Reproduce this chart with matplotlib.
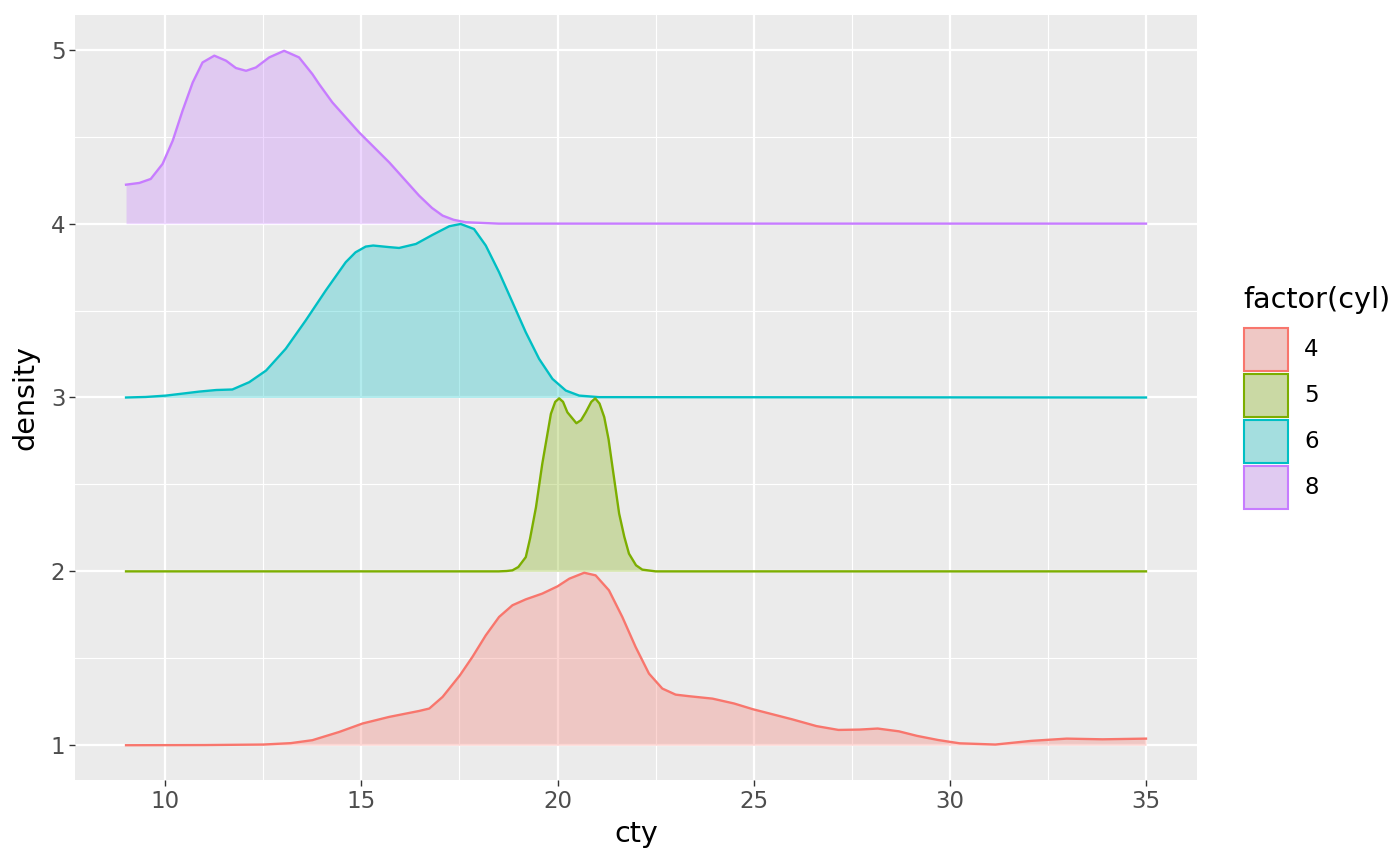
import matplotlib
matplotlib.use('Agg')
from matplotlib import pyplot as plt
from matplotlib.patches import Rectangle
from matplotlib.colors import to_rgb

# ridge values: x (cty) and scaled height above each baseline
cyl_levels = ['4', '5', '6', '8']
baselines = [1, 2, 3, 4]
colors = ['#F8766D', '#7CAE00', '#00BFC4', '#C77CFF']

x_4 = [9, 11, 12.5, 13.2, 13.75, 14.43, 15.03, 15.71, 16.47, 16.73, 17.07, 17.51, 17.83,
       18.17, 18.51, 18.85, 19.19, 19.61, 20.0, 20.3, 20.68, 20.97, 21.31, 21.65, 21.99,
       22.33, 22.67, 23.01, 23.35, 23.95, 24.5, 24.98, 25.98, 26.6, 27.16, 27.7, 28.16,
       28.7, 29.16, 29.7, 30.25, 31.16, 32.07, 32.98, 33.89, 35]
h_4 = [0, 0.001, 0.004, 0.012, 0.029, 0.076, 0.125, 0.163, 0.197, 0.211, 0.278, 0.402, 0.508,
       0.632, 0.738, 0.805, 0.839, 0.872, 0.914, 0.958, 0.992, 0.977, 0.891, 0.738, 0.565,
       0.412, 0.326, 0.291, 0.282, 0.268, 0.24, 0.207, 0.149, 0.11, 0.088, 0.09, 0.096,
       0.08, 0.054, 0.03, 0.011, 0.004, 0.025, 0.038, 0.034, 0.038]

x_5 = [9, 18.5, 18.7, 18.85, 19.0, 19.19, 19.3, 19.45, 19.61, 19.83, 19.94, 20.04, 20.14,
       20.25, 20.48, 20.6, 20.72, 20.86, 20.96, 21.07, 21.19, 21.3, 21.4, 21.57, 21.7,
       21.82, 22.0, 22.16, 22.5, 35]
h_5 = [0, 0, 0.002, 0.006, 0.025, 0.082, 0.19, 0.369, 0.618, 0.906, 0.975, 0.995, 0.975,
       0.915, 0.852, 0.87, 0.915, 0.975, 0.995, 0.965, 0.887, 0.76, 0.6, 0.332, 0.2,
       0.102, 0.035, 0.01, 0, 0]

x_6 = [9, 9.5, 10.02, 10.87, 11.3, 11.71, 12.14, 12.57, 13.07, 13.58, 14.09, 14.6, 14.85,
       15.11, 15.3, 15.7, 15.96, 16.39, 16.81, 17.24, 17.53, 17.87, 18.17, 18.51, 18.85,
       19.19, 19.53, 19.87, 20.21, 20.55, 21.06, 35]
h_6 = [0, 0.003, 0.011, 0.034, 0.043, 0.046, 0.088, 0.155, 0.28, 0.443, 0.615, 0.778, 0.835,
       0.868, 0.874, 0.865, 0.86, 0.883, 0.935, 0.985, 0.998, 0.969, 0.874, 0.72, 0.548,
       0.375, 0.222, 0.107, 0.04, 0.011, 0.002, 0]

x_8 = [9, 9.34, 9.63, 9.93, 10.19, 10.44, 10.7, 10.95, 11.25, 11.55, 11.8, 12.06, 12.31,
       12.65, 13.03, 13.41, 13.75, 13.92, 14.26, 14.94, 15.71, 16.47, 16.8, 17.07, 17.35,
       17.66, 18.5, 35]
h_8 = [0.224, 0.234, 0.257, 0.343, 0.477, 0.649, 0.812, 0.927, 0.966, 0.937, 0.895, 0.879, 0.898,
       0.956, 0.994, 0.956, 0.86, 0.803, 0.697, 0.525, 0.352, 0.161, 0.09, 0.046, 0.022,
       0.008, 0, 0]

ridges_x = [x_4, x_5, x_6, x_8]
ridges_h = [h_4, h_5, h_6, h_8]

panel_bg = '#EBEBEB'
fill_alpha = 0.3

fig = plt.figure(figsize=(14, 8.66), dpi=100)
ax = fig.add_axes([0.0536, 0.0993, 0.855 - 0.0536, 0.9827 - 0.0993])
ax.set_facecolor(panel_bg)
for side in ax.spines.values():
    side.set_visible(False)

# top ridge first so lower ridges sit on top of it
for n in reversed(range(len(cyl_levels))):
    base = baselines[n]
    ys = [base + h for h in ridges_h[n]]
    ax.fill_between(ridges_x[n], base, ys, color=colors[n], alpha=fill_alpha,
                    linewidth=0, zorder=3 + (3 - n) * 2)
    ax.plot(ridges_x[n], ys, color=colors[n], linewidth=1.7, zorder=4 + (3 - n) * 2,
            solid_joinstyle='round')

ax.set_xlim(7.7, 36.3)
ax.set_ylim(0.8, 5.2)
ax.set_xticks([10, 15, 20, 25, 30, 35])
ax.set_xticks([12.5, 17.5, 22.5, 27.5, 32.5], minor=True)
ax.set_yticks([1, 2, 3, 4, 5])
ax.set_yticks([1.5, 2.5, 3.5, 4.5], minor=True)
ax.grid(which='major', color='white', linewidth=1.6, zorder=1)
ax.grid(which='minor', color='white', linewidth=0.8, zorder=1)
ax.set_axisbelow(True)
ax.tick_params(which='major', length=4, width=1.0, color='#333333',
               labelsize=16.5, labelcolor='#4D4D4D', pad=3)
ax.tick_params(which='minor', length=0)

ax.set_xlabel('cty', fontsize=20.6, labelpad=5)
ax.set_ylabel('density', fontsize=20.6, labelpad=8)

# legend drawn by hand, ggplot style
fig.text(1243 / 1400, 1 - 300 / 866, 'factor(cyl)', fontsize=20.6, va='center', ha='left')
key_w, key_h, key_gap = 44, 43, 3
key_top = 328
for n, level in enumerate(cyl_levels):
    top = key_top + n * (key_h + key_gap)
    rgb = to_rgb(colors[n])
    bg = to_rgb(panel_bg)
    face = tuple(fill_alpha * c + (1 - fill_alpha) * b for c, b in zip(rgb, bg))
    fig.add_artist(Rectangle((1244 / 1400, 1 - (top + key_h) / 866), key_w / 1400, key_h / 866,
                             transform=fig.transFigure, facecolor=face,
                             edgecolor=colors[n], linewidth=1.5))
    fig.text(1304 / 1400, 1 - (top + key_h / 2) / 866, level, fontsize=16.5,
             va='center', ha='left')

fig.savefig('out.png', dpi=100, facecolor='white')
plt.close()
